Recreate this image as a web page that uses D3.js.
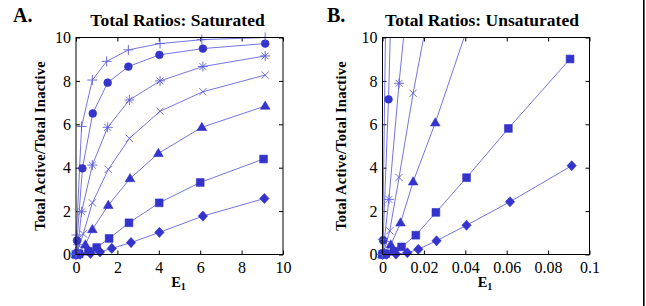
<!DOCTYPE html>
<html><head><meta charset="utf-8">
<script src="https://cdn.jsdelivr.net/npm/d3@7"></script>
<style>
html,body{margin:0;padding:0;background:#fff;}
svg{display:block;}
text{font-family:"Liberation Serif","Times New Roman",serif;fill:#000;}
</style></head>
<body>
<svg id="chart" width="646" height="306"></svg>
<script>
// ---------- DATA ----------
const panelLetters = ["A.", "B."];
const panelTitles = ["Total Ratios: Saturated", "Total Ratios: Unsaturated"];
const yAxisLabel = "Total Active/Total Inactive";
const xAxisLabel = "E";
const xAxisSub = "1";

const yTicks = [0, 2, 4, 6, 8, 10];
const yTickLabels = ["0", "2", "4", "6", "8", "10"];
const xTicksA = [0, 2, 4, 6, 8, 10];
const xTickLabelsA = ["0", "2", "4", "6", "8", "10"];
const xTicksB = [0, 0.02, 0.04, 0.06, 0.08, 0.1];
const xTickLabelsB = ["0", "0.02", "0.04", "0.06", "0.08", "0.1"];

const markerNames = ["plus", "circle", "asterisk", "times", "triangle", "square", "diamond"];

// Panel A (saturated)
const A_plus_x     = [0, 0.005, 0.02, 0.27, 0.79, 1.48, 2.53, 4.06, 6.08, 9.14];
const A_plus_y     = [0, 0.12, 0.9, 5.9, 8.04, 8.9, 9.43, 9.72, 9.9, 10.0];
const A_circle_x   = [0, 0.01, 0.05, 0.31, 0.81, 1.53, 2.53, 4.03, 6.13, 9.14];
const A_circle_y   = [0, 0.05, 0.65, 3.97, 6.5, 7.92, 8.66, 9.2, 9.49, 9.72];
const A_asterisk_x = [0, 0.02, 0.1, 0.27, 0.79, 1.53, 2.58, 4.06, 6.13, 9.14];
const A_asterisk_y = [0, 0.05, 0.45, 1.97, 4.12, 5.86, 7.12, 8.0, 8.66, 9.15];
const A_times_x    = [0, 0.05, 0.35, 0.79, 1.56, 2.58, 4.06, 6.13, 9.14];
const A_times_y    = [0, 0.1, 0.95, 2.38, 3.92, 5.35, 6.6, 7.5, 8.27];
const A_triangle_x = [0, 0.1, 0.45, 0.79, 1.56, 2.61, 3.98, 6.08, 9.14];
const A_triangle_y = [0, 0.05, 0.45, 1.15, 2.27, 3.5, 4.66, 5.86, 6.84];
const A_square_x   = [0, 0.15, 0.6, 1.0, 1.6, 2.56, 4.02, 6.0, 9.06];
const A_square_y   = [0, 0.03, 0.15, 0.32, 0.74, 1.46, 2.38, 3.32, 4.4];
const A_diamond_x  = [0, 0.2, 0.7, 1.16, 1.73, 2.66, 4.03, 6.13, 9.1];
const A_diamond_y  = [0, 0.01, 0.05, 0.12, 0.28, 0.55, 1.02, 1.77, 2.58];

// Panel B (unsaturated)
const B_plus_x     = [0, 0.0001, 0.0027, 0.0079, 0.0148];
const B_plus_y     = [0, 0.7, 19, 56, 100];
const B_circle_x   = [0, 0.0001, 0.0003, 0.0029, 0.0081, 0.0153];
const B_circle_y   = [0, 0.05, 0.66, 7.15, 25, 50];
const B_asterisk_x = [0, 0.0002, 0.0008, 0.0031, 0.008, 0.0153, 0.0258];
const B_asterisk_y = [0, 0.05, 0.6, 2.54, 7.89, 15, 25];
const B_times_x    = [0, 0.0005, 0.0035, 0.008, 0.0148, 0.0258, 0.0406];
const B_times_y    = [0, 0.1, 1.09, 3.55, 7.43, 13, 20];
const B_triangle_x = [0, 0.001, 0.004, 0.0087, 0.0148, 0.0255, 0.0405, 0.061];
const B_triangle_y = [0, 0.05, 0.45, 1.46, 3.35, 6.07, 10.3, 16];
const B_square_x   = [0, 0.0015, 0.0055, 0.0092, 0.0161, 0.0258, 0.0406, 0.0608, 0.0906];
const B_square_y   = [0, 0.03, 0.15, 0.35, 0.89, 1.94, 3.54, 5.81, 9.01];
const B_diamond_x  = [0, 0.002, 0.0065, 0.012, 0.0173, 0.0261, 0.0406, 0.0616, 0.0914];
const B_diamond_y  = [0, 0.01, 0.02, 0.08, 0.24, 0.63, 1.35, 2.43, 4.09];

// ---------- BUILD ----------
const seriesA = [
  [A_plus_x, A_plus_y], [A_circle_x, A_circle_y], [A_asterisk_x, A_asterisk_y],
  [A_times_x, A_times_y], [A_triangle_x, A_triangle_y], [A_square_x, A_square_y],
  [A_diamond_x, A_diamond_y]
].map(([xs, ys], i) => ({marker: markerNames[i], pts: xs.map((x, j) => [x, ys[j]])}));
const seriesB = [
  [B_plus_x, B_plus_y], [B_circle_x, B_circle_y], [B_asterisk_x, B_asterisk_y],
  [B_times_x, B_times_y], [B_triangle_x, B_triangle_y], [B_square_x, B_square_y],
  [B_diamond_x, B_diamond_y]
].map(([xs, ys], i) => ({marker: markerNames[i], pts: xs.map((x, j) => [x, ys[j]])}));

const BLUE = "#3434cc";
const LINE = "#5c5cda";

// custom symbol types (size = radius-like extent in px)
const sym = {
  circle:   {draw(c, r){ c.moveTo(r, 0); c.arc(0, 0, r, 0, 2*Math.PI); c.closePath(); }},
  square:   {draw(c, r){ c.rect(-r, -r, 2*r, 2*r); }},
  triangle: {draw(c, r){ c.moveTo(0, -r*1.2); c.lineTo(r*1.15, r*0.75); c.lineTo(-r*1.15, r*0.75); c.closePath(); }},
  diamond:  {draw(c, r){ c.moveTo(0, -r*1.3); c.lineTo(r*1.2, 0); c.lineTo(0, r*1.3); c.lineTo(-r*1.2, 0); c.closePath(); }},
  plus:     {draw(c, r){ c.moveTo(-r, 0); c.lineTo(r, 0); c.moveTo(0, -r); c.lineTo(0, r); }},
  times:    {draw(c, r){ const a=r*0.75; c.moveTo(-a, -a); c.lineTo(a, a); c.moveTo(-a, a); c.lineTo(a, -a); }},
  asterisk: {draw(c, r){ const a=r*0.68; c.moveTo(-r, 0); c.lineTo(r, 0); c.moveTo(0, -r); c.lineTo(0, r);
                         c.moveTo(-a, -a); c.lineTo(a, a); c.moveTo(-a, a); c.lineTo(a, -a); }}
};
const symSize = {circle: 3.9, square: 3.9, triangle: 4.2, diamond: 3.9, plus: 5, times: 4.8, asterisk: 5};
const filled = {circle: true, square: true, triangle: true, diamond: true, plus: false, times: false, asterisk: false};

const svg = d3.select("#chart");
const FONT = '"Liberation Serif","Times New Roman",serif';

function panel(cfg) {
  const {x0, x1, y0, y1, xDomain, xTicks, xTickLabels, series, letter, letterX, title, titleX, ylabX, idx} = cfg;
  const x = d3.scaleLinear().domain(xDomain).range([x0, x1]);
  const y = d3.scaleLinear().domain([0, 10]).range([y1, y0]);
  const g = svg.append("g");

  const clipId = "clip" + idx;
  svg.append("clipPath").attr("id", clipId).append("rect")
    .attr("x", x0).attr("y", y0).attr("width", x1 - x0).attr("height", y1 - y0);

  // ticks (inward, all sides)
  const TL = 4;
  const axB = d3.axisBottom(x).tickValues(xTicks).tickSizeInner(-TL).tickSizeOuter(0).tickPadding(7)
    .tickFormat((d, i) => xTickLabels[i]);
  const axT = d3.axisTop(x).tickValues(xTicks).tickSizeInner(-TL).tickSizeOuter(0).tickFormat("");
  const axL = d3.axisLeft(y).tickValues(yTicks).tickSizeInner(-TL).tickSizeOuter(0).tickPadding(5)
    .tickFormat((d, i) => yTickLabels[i]);
  const axR = d3.axisRight(y).tickValues(yTicks).tickSizeInner(-TL).tickSizeOuter(0).tickFormat("");

  const gb = g.append("g").attr("transform", `translate(0,${y1})`).call(axB);
  const gt = g.append("g").attr("transform", `translate(0,${y0})`).call(axT);
  const gl = g.append("g").attr("transform", `translate(${x0},0)`).call(axL);
  const gr = g.append("g").attr("transform", `translate(${x1},0)`).call(axR);
  [gb, gt, gl, gr].forEach(a => {
    a.select(".domain").remove();
    a.selectAll(".tick line").attr("stroke", "#000").attr("stroke-width", 1);
    a.selectAll("text").style("font-family", FONT).style("font-size", "16px").attr("fill", "#000");
  });

  // data lines (clipped)
  const line = d3.line().x(d => x(d[0])).y(d => y(d[1]));
  const lg = g.append("g").attr("clip-path", `url(#${clipId})`);
  series.forEach(s => {
    lg.append("path").attr("d", line(s.pts)).attr("fill", "none")
      .attr("stroke", LINE).attr("stroke-width", 0.85);
  });

  // markers (only points inside the axes)
  const mg = g.append("g");
  series.slice().reverse().forEach(s => {
    const gen = d3.symbol().type(sym[s.marker]).size(symSize[s.marker]);
    mg.selectAll(null).data(s.pts.filter(p => p[1] <= 10.05 && p[0] <= xDomain[1]))
      .enter().append("path")
      .attr("transform", d => `translate(${x(d[0])},${y(d[1])})`)
      .attr("d", gen())
      .attr("fill", filled[s.marker] ? BLUE : "none")
      .attr("stroke", filled[s.marker] ? BLUE : LINE)
      .attr("stroke-width", filled[s.marker] ? 0.6 : 0.9);
  });

  // frame
  g.append("rect").attr("x", x0).attr("y", y0).attr("width", x1 - x0).attr("height", y1 - y0)
    .attr("fill", "none").attr("stroke", "#000").attr("stroke-width", 1);

  // texts
  g.append("text").attr("x", letterX).attr("y", 22).text(letter)
    .style("font-size", "20px").style("font-weight", "bold");
  g.append("text").attr("x", titleX).attr("y", 26).attr("text-anchor", "middle").text(title)
    .style("font-size", "17.5px").style("font-weight", "bold");
  g.append("text").attr("transform", `translate(${ylabX},${(y0 + y1) / 2}) rotate(-90)`)
    .attr("text-anchor", "middle").text(yAxisLabel)
    .style("font-size", "14.6px").style("font-weight", "bold").style("letter-spacing", "0.2px");
  const xl = g.append("text").attr("x", (x0 + x1) / 2 - 1).attr("y", 287).attr("text-anchor", "middle")
    .style("font-size", "14.5px").style("font-weight", "bold");
  xl.append("tspan").text(xAxisLabel);
  xl.append("tspan").attr("dy", 3).style("font-size", "10px").text(xAxisSub);
}

panel({idx: 0, x0: 76, x1: 283, y0: 37.5, y1: 254.5, xDomain: [0, 10], xTicks: xTicksA, xTickLabels: xTickLabelsA,
  series: seriesA, letter: panelLetters[0], letterX: 13, title: panelTitles[0], titleX: 177.5, ylabX: 45});
panel({idx: 1, x0: 382.5, x1: 589.5, y0: 37.5, y1: 254.5, xDomain: [0, 0.1], xTicks: xTicksB, xTickLabels: xTickLabelsB,
  series: seriesB, letter: panelLetters[1], letterX: 327, title: panelTitles[1], titleX: 482, ylabX: 346});

// right border line
svg.append("line").attr("x1", 643.8).attr("x2", 643.8).attr("y1", 0).attr("y2", 306)
  .attr("stroke", "#000").attr("stroke-width", 1.6);
</script>
</body></html>
